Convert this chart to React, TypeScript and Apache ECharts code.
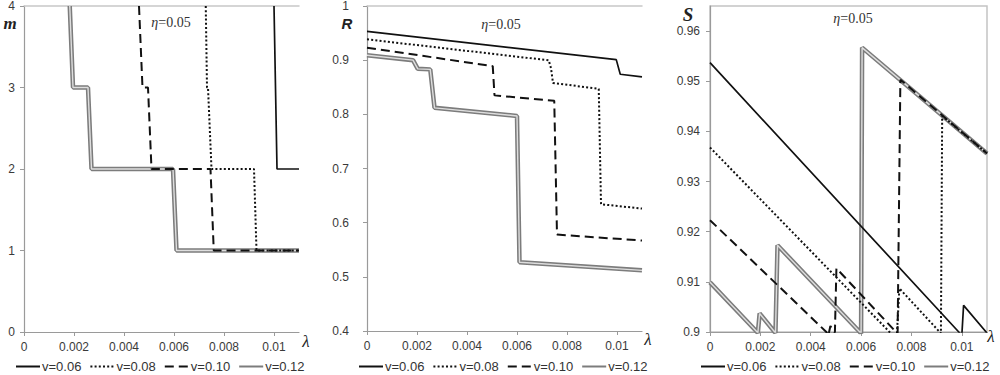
import React, { useEffect, useRef } from "react";
import * as echarts from "echarts";

// ---------- data ----------
const NAMES = ["v=0.06", "v=0.08", "v=0.10", "v=0.12"];
const X_TICKS = [0, 0.002, 0.004, 0.006, 0.008, 0.01];
const M_TICKS = [0, 1, 2, 3, 4];
const R_TICKS = [0.4, 0.5, 0.6, 0.7, 0.8, 0.9, 1];
const S_TICKS = [0.9, 0.91, 0.92, 0.93, 0.94, 0.95, 0.96];
const ETA_LABEL = "=0.05";

// panel 1: m vs lambda
const M06 = [[0.01, 4], [0.01012, 2], [0.011, 2]];
const M08 = [[0.00727, 4], [0.00732, 3], [0.00736, 3], [0.0075, 2], [0.0092, 2], [0.0093, 1], [0.011, 1]];
const M10 = [[0.0046, 4], [0.00474, 3], [0.00496, 3], [0.0051, 2], [0.00746, 2], [0.00759, 1], [0.011, 1]];
const M12 = [[0.00183, 4], [0.00196, 3], [0.00256, 3], [0.0027, 2], [0.00596, 2], [0.0061, 1], [0.011, 1]];

// panel 2: R vs lambda
const R06 = [[0, 0.9532], [0.00997, 0.901], [0.01013, 0.874], [0.011, 0.869]];
const R08 = [[0, 0.9385], [0.00727, 0.8997], [0.00736, 0.885], [0.00744, 0.858], [0.00927, 0.847], [0.00936, 0.634], [0.011, 0.626]];
const R10 = [[0, 0.923], [0.00503, 0.889], [0.0051, 0.835], [0.00749, 0.825], [0.0076, 0.578], [0.011, 0.567]];
const R12 = [[0, 0.909], [0.00184, 0.9], [0.00203, 0.884], [0.00253, 0.883], [0.0027, 0.812], [0.006, 0.797], [0.0061, 0.527], [0.011, 0.512]];

// panel 3: S vs lambda
const S06 = [[0, 0.9537], [0.00988, 0.9], [0.01, 0.8993], [0.01007, 0.9053], [0.011, 0.8998]];
const S08 = [[0, 0.9368], [0.00713, 0.9], [0.0073, 0.8991], [0.00742, 0.8994], [0.00752, 0.9087], [0.00912, 0.9], [0.00917, 0.8997], [0.00922, 0.9431], [0.011, 0.9356]];
const S10 = [[0, 0.9223], [0.00462, 0.9], [0.0047, 0.8993], [0.00478, 0.9012], [0.00496, 0.8999], [0.00502, 0.9127], [0.00733, 0.9003], [0.00745, 0.8996], [0.00756, 0.9503], [0.011, 0.9356]];
const S12 = [[0, 0.9099], [0.00187, 0.9], [0.0019, 0.8998], [0.00197, 0.9037], [0.00257, 0.9], [0.0026, 0.8998], [0.00268, 0.9173], [0.00595, 0.9], [0.006, 0.8997], [0.00604, 0.9567], [0.011, 0.9356]];

const SANS = "'Liberation Sans', Arial, sans-serif";
const SERIF = "'Liberation Serif', 'Times New Roman', serif";

const PANEL_DATA = [
  { d06: M06, d08: M08, d10: M10, d12: M12 },
  { d06: R06, d08: R08, d10: R10, d12: R12 },
  { d06: S06, d08: S08, d10: S10, d12: S12 },
];

export default function App() {
  const ref = useRef<HTMLDivElement>(null);
  useEffect(() => {
    if (!ref.current) return;
    const chart = echarts.init(ref.current, null, { renderer: "svg" });

    const grids = [
      { left: 24, top: 6, width: 275, height: 326 },
      { left: 367, top: 6, width: 275, height: 325 },
      { left: 710, top: 6, width: 277, height: 326, show: true, borderColor: "#c4c4c4", borderWidth: 1.5 },
    ];
    const yDefs = [
      { min: 0, max: 4, ticks: M_TICKS, margin: 9 },
      { min: 0.4, max: 1, ticks: R_TICKS, margin: 18 },
      { min: 0.9, max: 0.965, ticks: S_TICKS, margin: 10 },
    ];
    const axisColor = "#9a9a9a";
    const labelStyle = { color: "#3a3a3a", fontSize: 12, fontFamily: SANS };

    const xAxis: any[] = grids.map((_, i) => ({
      gridIndex: i,
      type: "value",
      min: 0,
      max: 0.011,
      axisLine: { show: true, onZero: false, lineStyle: { color: axisColor, width: 1.2 } },
      axisTick: { show: true, length: 4, customValues: X_TICKS, lineStyle: { color: axisColor } },
      axisLabel: { show: true, customValues: X_TICKS, margin: 9, ...labelStyle },
      splitLine: { show: false },
    }));
    [0, 1].forEach((i) =>
      xAxis.push({
        gridIndex: i,
        type: "value",
        position: "top",
        min: 0,
        max: 0.011,
        axisLine: { show: true, onZero: false, lineStyle: { color: "#c8c8c8", width: 1.5 } },
        axisTick: { show: false },
        axisLabel: { show: false },
        splitLine: { show: false },
      })
    );
    const yAxis = yDefs.map((y, i) => ({
      gridIndex: i,
      type: "value",
      min: y.min,
      max: y.max,
      axisLine: { show: true, onZero: false, lineStyle: { color: axisColor, width: 1.2 } },
      axisTick: { show: true, length: 4, customValues: y.ticks, lineStyle: { color: axisColor } },
      axisLabel: { show: true, customValues: y.ticks, margin: y.margin, ...labelStyle },
      splitLine: { show: false },
    }));

    const series: any[] = [];
    PANEL_DATA.forEach((p, i) => {
      const base = { type: "line", xAxisIndex: i, yAxisIndex: i, symbol: "none", showSymbol: false, clip: true, silent: true };
      series.push({ ...base, name: "v=0.12", data: p.d12, lineStyle: { color: "#7c7c7c", width: 4.5 }, itemStyle: { color: "#7c7c7c" }, z: 2 });
      series.push({ ...base, name: "v=0.12 core", data: p.d12, lineStyle: { color: "#dedede", width: 1.4 }, z: 3 });
      series.push({ ...base, name: "v=0.06", data: p.d06, lineStyle: { color: "#111", width: 1.7 }, itemStyle: { color: "#111" }, z: 4 });
      series.push({ ...base, name: "v=0.08", data: p.d08, lineStyle: { color: "#111", width: 2, type: [2, 2.2] }, itemStyle: { color: "#111" }, z: 4 });
      series.push({ ...base, name: "v=0.10", data: p.d10, lineStyle: { color: "#111", width: 2, type: [9, 5] }, itemStyle: { color: "#111" }, z: 4 });
    });

    const legendLefts = [10, 353, 695];
    const legend = legendLefts.map((l) => ({
      left: l,
      top: 355,
      orient: "horizontal",
      data: NAMES,
      itemWidth: 24,
      itemHeight: 12,
      itemGap: 8,
      selectedMode: false,
      itemStyle: { opacity: 0, borderWidth: 0 },
      textStyle: { color: "#333", fontSize: 13, fontFamily: SANS, padding: [0, 0, 0, -3] },
    }));

    const txt = (x: number, y: number, text: string, font: any) => ({
      type: "text",
      x,
      y,
      silent: true,
      style: { text, fill: "#222", align: "center", verticalAlign: "middle", ...font },
    });
    const etaText = (x: number, y: number) => ({
      type: "text",
      x,
      y,
      silent: true,
      style: {
        text: "{i|η}" + ETA_LABEL,
        fill: "#333",
        align: "center",
        verticalAlign: "middle",
        fontFamily: SERIF,
        fontSize: 14,
        rich: { i: { fontStyle: "italic", fontFamily: SERIF, fontSize: 14, fill: "#333" } },
      },
    });

    const graphic = [
      txt(10, 23, "m", { fontFamily: SERIF, fontSize: 17, fontStyle: "italic", fontWeight: "bold" }),
      txt(347, 23, "R", { fontFamily: SANS, fontSize: 15, fontStyle: "italic", fontWeight: "bold" }),
      txt(688, 14, "S", { fontFamily: SERIF, fontSize: 19, fontStyle: "italic", fontWeight: "bold" }),
      txt(306, 341, "λ", { fontFamily: SERIF, fontSize: 17, fontStyle: "italic" }),
      txt(648, 339, "λ", { fontFamily: SERIF, fontSize: 17, fontStyle: "italic" }),
      txt(991, 336, "λ", { fontFamily: SERIF, fontSize: 17, fontStyle: "italic" }),
      etaText(171, 22),
      etaText(501, 24),
      etaText(853, 18),
    ];

    chart.setOption({
      animation: false,
      backgroundColor: "#fff",
      grid: grids,
      xAxis,
      yAxis,
      series,
      legend,
      graphic,
    });
    return () => chart.dispose();
  }, []);
  return (
    <div
      ref={ref}
      style={{ position: "absolute", left: 0, top: 0, width: 1000, height: 375 }}
    />
  );
}
